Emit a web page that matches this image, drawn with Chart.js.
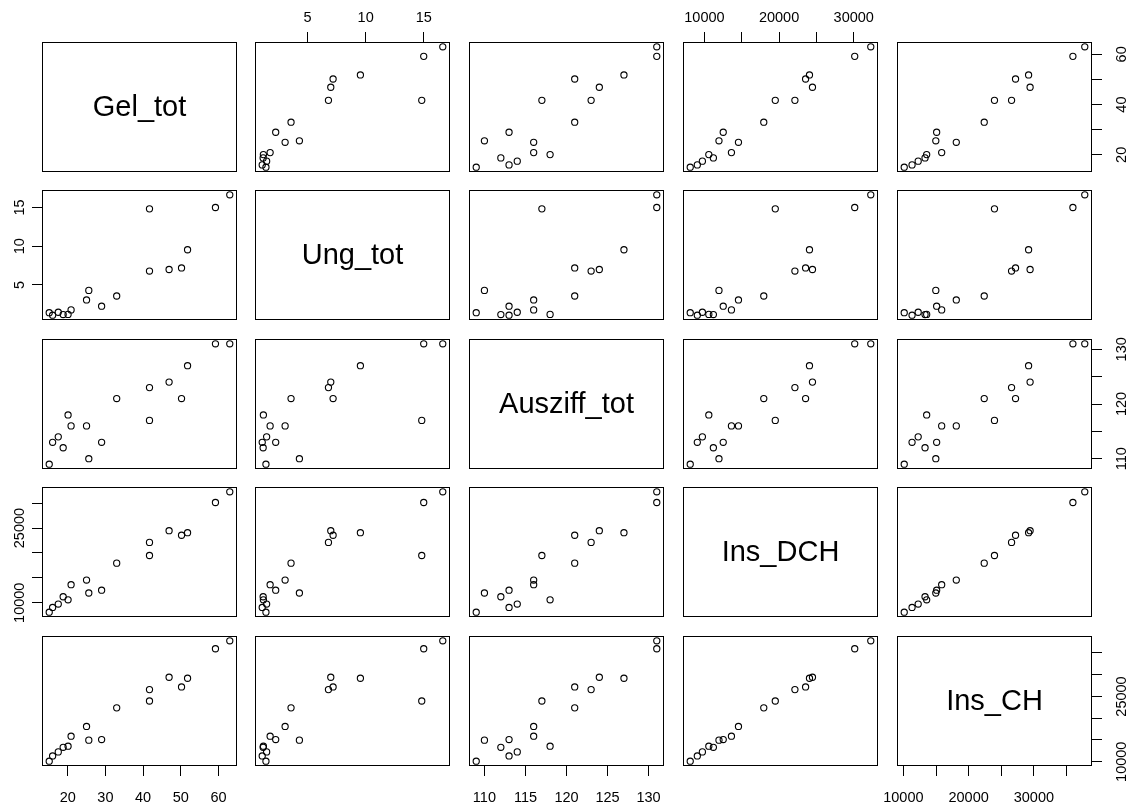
<!DOCTYPE html>
<html><head><meta charset="utf-8">
<script src="https://cdn.jsdelivr.net/npm/chart.js@4.4.1/dist/chart.umd.min.js"></script>
<style>
html,body{margin:0;padding:0;background:#fff;}
#wrap{position:relative;width:1137px;height:807px;overflow:hidden;background:#fff;}
#wrap canvas{position:absolute;}
</style></head><body><div id="wrap"></div>
<script>
// ---- data ----
const varNames = ['Gel_tot', 'Ung_tot', 'Ausziff_tot', 'Ins_DCH', 'Ins_CH'];
const gelTot     = [15.1, 16.0, 17.5, 18.8, 20.1, 20.9, 25.0, 25.6, 29.0, 33.0, 41.7, 41.7, 46.9, 50.2, 51.8, 59.2, 63.0];
const ungTot     = [1.42, 1.1, 1.48, 1.18, 1.2, 1.78, 3.07, 4.3, 2.26, 3.58, 6.8, 14.83, 7.0, 7.2, 9.55, 15.0, 16.64];
const ausziffTot = [109, 113, 114, 112, 118, 116, 116, 110, 113, 121, 123, 117, 124, 121, 127, 131, 131];
const insDCH     = [8100, 9050, 9730, 11200, 10590, 13620, 14560, 11950, 12520, 17950, 22120, 19490, 24470, 23550, 24070, 30130, 32280];
const insCH      = [10130, 11330, 12270, 13320, 13570, 15870, 18110, 14970, 15100, 22390, 26580, 23960, 29420, 27190, 29190, 35980, 37800];

// ---- tick values and labels ----
const gelTicks = [20, 30, 40, 50, 60];
const gelLabelsOuter = [20, 30, 40, 50, 60];   // bottom axis
const gelLabelsSide  = [20, 40, 60];           // right axis
const ungTicks = [5, 10, 15];
const ungLabelsOuter = [5, 10, 15];            // top axis
const ungLabelsSide  = [5, 10, 15];            // left axis
const auszTicks = [110, 115, 120, 125, 130];
const auszLabelsOuter = [110, 115, 120, 125, 130];
const auszLabelsSide  = [110, 120, 130];
const dchTicks = [10000, 15000, 20000, 25000, 30000];
const dchLabelsOuter = [10000, 20000, 30000];
const dchLabelsSide  = [10000, 25000];
const chTicks = [10000, 15000, 20000, 25000, 30000, 35000];
const chLabelsOuter = [10000, 20000, 30000];
const chLabelsSide  = [10000, 25000];

const series = [gelTot, ungTot, ausziffTot, insDCH, insCH];
const ticksList = [gelTicks, ungTicks, auszTicks, dchTicks, chTicks];
const outerLabels = [gelLabelsOuter, ungLabelsOuter, auszLabelsOuter, dchLabelsOuter, chLabelsOuter];
const sideLabels = [gelLabelsSide, ungLabelsSide, auszLabelsSide, dchLabelsSide, chLabelsSide];

// ---- layout ----
const colLeft = [42, 255, 469, 683, 897];
const rowTop = [42, 190, 339, 487, 636];
const PW = 195, PH = 130, M = 48, TL = 10;
const FAMILY = '"Liberation Sans", Arial, Helvetica, sans-serif';
const TSIZE = 14.5;
const LH = TSIZE * 1.2;
const OFF_TOP = 24, OFF_BOTTOM = 31.6, OFF_LEFT = 22, OFF_RIGHT = 30;

const mctx = document.createElement('canvas').getContext('2d');
mctx.font = TSIZE + 'px ' + FAMILY;
function widest(arr) { return Math.max.apply(null, arr.map(v => mctx.measureText(String(v)).width)); }

function rng(a) {
  const lo = Math.min.apply(null, a), hi = Math.max.apply(null, a);
  const d = (hi - lo) * 0.04;
  return [lo - d, hi + d];
}

const boxPlugin = {
  id: 'panelBox',
  afterDraw(chart) {
    const a = chart.chartArea, ctx = chart.ctx;
    ctx.save();
    ctx.strokeStyle = '#000';
    ctx.lineWidth = 1;
    ctx.strokeRect(Math.round(a.left) + 0.5, Math.round(a.top) + 0.5,
                   Math.round(a.right - a.left) - 1, Math.round(a.bottom - a.top) - 1);
    const t = chart.options.plugins.panelBox && chart.options.plugins.panelBox.text;
    if (t) {
      ctx.fillStyle = '#000';
      ctx.font = '29px ' + FAMILY;
      ctx.textAlign = 'center';
      ctx.textBaseline = 'middle';
      ctx.fillText(t, (a.left + a.right) / 2, (a.top + a.bottom) / 2 + 1);
    }
    ctx.restore();
  }
};

const wrap = document.getElementById('wrap');
for (let r = 0; r < 5; r++) {
  for (let c = 0; c < 5; c++) {
    const xSide = (r === 4 && c % 2 === 0) ? 'bottom' : ((r === 0 && c % 2 === 1) ? 'top' : null);
    const ySide = (c === 0 && r % 2 === 1) ? 'left' : ((c === 4 && r % 2 === 0) ? 'right' : null);
    const cv = document.createElement('canvas');
    cv.width = PW + 2 * M; cv.height = PH + 2 * M;
    cv.style.left = (colLeft[c] - M) + 'px';
    cv.style.top = (rowTop[r] - M) + 'px';
    wrap.appendChild(cv);

    const xr = rng(series[c]), yr = rng(series[r]);
    const xLabels = outerLabels[c];
    const yLabels = sideLabels[r];
    const yW = widest(yLabels);
    const yPad = (ySide === 'left' ? OFF_LEFT : OFF_RIGHT) - TL - yW / 2;
    const xPad = (xSide === 'top' ? OFF_TOP : OFF_BOTTOM) - TL - LH / 2;

    const datasets = (r === c) ? [] : [{
      data: series[c].map((v, i) => ({ x: v, y: series[r][i] })),
      pointStyle: 'circle',
      pointRadius: 3.1,
      pointBorderWidth: 1.1,
      borderColor: '#000',
      backgroundColor: 'rgba(0,0,0,0)',
      pointBackgroundColor: 'rgba(0,0,0,0)',
      pointBorderColor: '#000',
      showLine: false
    }];

    new Chart(cv, {
      type: 'scatter',
      data: { datasets },
      plugins: [boxPlugin],
      options: {
        responsive: false,
        animation: false,
        events: [],
        layout: { padding: {
          left: ySide === 'left' ? 0 : M,
          right: ySide === 'right' ? 0 : M,
          top: xSide === 'top' ? 0 : M,
          bottom: xSide === 'bottom' ? 0 : M } },
        plugins: {
          legend: { display: false },
          tooltip: { enabled: false },
          panelBox: { text: r === c ? varNames[r] : '' }
        },
        scales: {
          x: {
            type: 'linear',
            position: xSide || 'bottom',
            display: !!xSide,
            min: xr[0], max: xr[1],
            afterBuildTicks: s => { s.ticks = ticksList[c].map(v => ({ value: v })); },
            afterFit: s => { s.height = xSide ? M : 0; },
            grid: { drawOnChartArea: false, drawTicks: true, tickLength: TL, color: '#000', lineWidth: 1 },
            border: { display: false },
            ticks: {
              autoSkip: false, minRotation: 0, maxRotation: 0, padding: xPad,
              color: '#000', font: { family: FAMILY, size: TSIZE },
              callback: v => xLabels.includes(v) ? String(v) : ''
            }
          },
          y: {
            type: 'linear',
            position: ySide || 'left',
            display: !!ySide,
            min: yr[0], max: yr[1],
            afterBuildTicks: s => { s.ticks = ticksList[r].map(v => ({ value: v })); },
            afterFit: s => { s.width = ySide ? M : 0; },
            grid: { drawOnChartArea: false, drawTicks: true, tickLength: TL, color: '#000', lineWidth: 1 },
            border: { display: false },
            ticks: {
              autoSkip: false, minRotation: 90, maxRotation: 90, crossAlign: 'center', padding: yPad,
              color: '#000', font: { family: FAMILY, size: TSIZE },
              callback: v => yLabels.includes(v) ? String(v) : ''
            }
          }
        }
      }
    });
  }
}
</script></body></html>
